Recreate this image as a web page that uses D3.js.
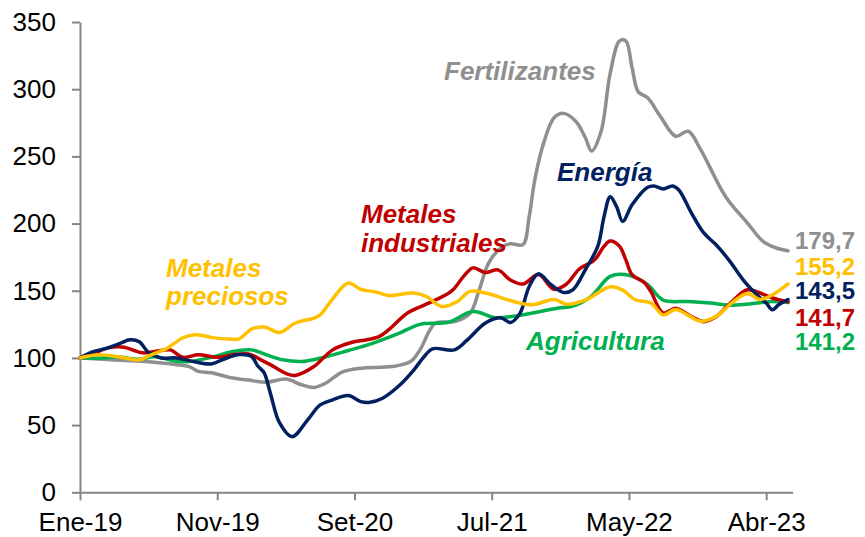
<!DOCTYPE html>
<html>
<head>
<meta charset="utf-8">
<script src="https://cdn.jsdelivr.net/npm/d3@7"></script>
<style>
  body { margin: 0; background: #fff; }
  svg text { font-family: "Liberation Sans", Arial, sans-serif; }
</style>
</head>
<body>
<div id="chart"></div>
<script>
const width = 865, height = 537;

// x = weeks since Ene-19
const tickWeeks = [0, 44, 88, 132, 176, 220];
const tickLabels = ["Ene-19", "Nov-19", "Set-20", "Jul-21", "May-22", "Abr-23"];
const yTicks = [0, 50, 100, 150, 200, 250, 300, 350];

const fertilizantes = [[0,100],[10,98.6],[21,97.3],[31,95],[35,93.5],[38,90],[42,89],[48,85.5],[54,83.5],[60,82],
  [66,84.3],[71,80],[75,78],[79,81.5],[84,89.5],[90,92.4],[100,93.6],[106,97.3],[109,106],[112,120],[114,126],
  [120,127],[125,133],[128,150.7],[131,170.6],[135,182],[138,185],[142,184.3],[144,205],[146,235],[149,262.5],
  [152,278.7],[155,282],[159,276],[162,264],[164,254],[167,268],[170,312],[173,336],[175,336],[177,316],[179,298],
  [182,293.6],[186,280],[191,265],[195,268.7],[199,255],[207,220],[214,200.4],[219,186.7],[223,182],[227,179.7]];

const energia = [[0,100],[4,104.5],[9,107.5],[13,111],[16,113.5],[19,112],[22,104],[26,100],[31,100],[35,98],[42,95.5],
  [46,99],[51,102.5],[55,101],[57,94],[59,89],[61,74],[64,51.6],[68,41.4],[73,53.9],[77,65],[81,68.8],[86,72],
  [90,67.5],[93,67],[97,70],[102,78.7],[107,91],[110,100],[113,106.8],[120,106],[124,113],[130,126],[135,129.8],
  [138,126.4],[141,133],[144,153],[147,162.7],[151,154.5],[155,148.7],[158,150.7],[162,165.6],[166,183],[168,205],
  [170,220],[172,212.8],[174,201.6],[177,214],[182,227],[184,228],[187,225.8],[190,228],[192,225],[196,208],
  [200,193],[204,184],[208,173],[213,157],[217,147],[220,140.8],[222,135.8],[224,139.6],[227,143.5]];

const metalesIndustriales = [[0,100],[5,104],[9,107.5],[14,108],[20,103.8],[26,105.5],[29,106],[33,100.5],[38,102.3],
  [44,100.5],[49,102.3],[54,103],[58,98.6],[61,95],[66,88.5],[69,87],[75,93.6],[81,106],[87,111.5],[92,113.5],
  [96,116],[99,121],[105,133.4],[111,140],[119,149.5],[123,160.7],[126,167],[130,163.5],[134,165.5],[138,158],
  [142,155],[147,162],[152,151],[156,155],[160,166],[165,173],[168,183],[170,187],[173,183],[175,173],[177,162],
  [181,156],[183,149.5],[187,133.4],[191,137],[196,130.8],[200,127],[204,130.8],[209,142],[214,150.7],[218,148.3],
  [222,144.6],[227,141.7]];

const metalesPreciosos = [[0,100],[6,102.3],[13,100.5],[19,98.6],[23,102.5],[28,107.3],[33,115],[37,117.3],[42,115.3],
  [48,114],[51,114.2],[55,121.5],[59,123],[64,119],[69,126],[75,129.7],[77,132],[81,144],[86,155.7],[90,151],
  [95,149],[99,146.5],[107,148.3],[111,145.8],[116,138.3],[121,142],[125,149.5],[130,148.3],[139,142],[145,139.6],
  [152,143.5],[156,140],[162,143],[170,153],[174,150.5],[178,143.3],[183,141],[187,132],[191,136],[199,127.3],
  [204,131],[209,141],[214,148],[218,143.5],[222,147],[227,155.2]];

const agricultura = [[0,100],[6,99.8],[12,100.6],[19,99.1],[24,100.8],[31,97.5],[35,97.3],[43,101],[49,104.8],[55,106],
  [59,103],[65,98.6],[71,97.3],[77,99.8],[86,105.5],[94,111],[102,118],[109,125],[118,126.5],[126,134.6],[133,130],
  [139,131],[145,133.4],[153,137],[158,138.5],[164,146],[170,160.7],[176,161.5],[182,154.5],[187,143],[195,142],
  [202,140.8],[209,139.2],[218,141],[222,142],[227,141.2]];

// drawing order: first at the bottom
const series = [
  { key: "fert", data: fertilizantes, color: "#8f8f8f", label: ["Fertilizantes"], lx: 444, ly: [80], endY: 249 },
  { key: "agri", data: agricultura, color: "#00b050", label: ["Agricultura"], lx: 526, ly: [350], endY: 350 },
  { key: "mind", data: metalesIndustriales, color: "#c00000", label: ["Metales", "industriales"], lx: 361, ly: [223, 252], endY: 326 },
  { key: "ener", data: energia, color: "#002060", label: ["Energía"], lx: 557, ly: [181], endY: 299 },
  { key: "mpre", data: metalesPreciosos, color: "#ffc000", label: ["Metales", "preciosos"], lx: 166, ly: [277, 305], endY: 275 }
];

const svg = d3.select("#chart").append("svg")
  .attr("width", width)
  .attr("height", height);

const x = d3.scaleLinear().domain([0, 228.5]).range([80, 792.7]);
const y = d3.scaleLinear().domain([0, 350]).range([492.3, 22]);

const axisColor = "#868686";

const yAxis = svg.append("g")
  .attr("transform", "translate(80,0)")
  .call(d3.axisLeft(y).tickValues(yTicks).tickSize(8).tickSizeOuter(0).tickPadding(16));
const xAxis = svg.append("g")
  .attr("transform", "translate(0,492.3)")
  .call(d3.axisBottom(x).tickValues(tickWeeks).tickSize(8).tickSizeOuter(0).tickPadding(12)
    .tickFormat((d, i) => tickLabels[i]));

[yAxis, xAxis].forEach(g => {
  g.select(".domain").attr("stroke", axisColor).attr("stroke-width", 2);
  g.selectAll(".tick line").attr("stroke", axisColor).attr("stroke-width", 2);
  g.selectAll(".tick text")
    .attr("fill", "#000")
    .style("font-size", "26px")
    .style("font-family", "'Liberation Sans', Arial, sans-serif");
});
xAxis.selectAll(".tick text").attr("dy", "0.71em");

const line = d3.line()
  .x(d => x(d[0]))
  .y(d => y(d[1]))
  .curve(d3.curveCatmullRom.alpha(0.5));

svg.append("g").selectAll("path")
  .data(series)
  .join("path")
  .attr("d", d => line(d.data))
  .attr("fill", "none")
  .attr("stroke", d => d.color)
  .attr("stroke-width", 3.5)
  .attr("stroke-linejoin", "round")
  .attr("stroke-linecap", "round");

// series names
series.forEach(s => {
  s.label.forEach((txt, i) => {
    svg.append("text")
      .attr("x", s.lx)
      .attr("y", s.ly[i])
      .attr("fill", s.color)
      .style("font-size", "26px")
      .style("font-weight", "bold")
      .style("font-style", "italic")
      .text(txt);
  });
});

// last values
const fmt = d3.format(".1f");
series.forEach(s => {
  const last = s.data[s.data.length - 1][1];
  svg.append("text")
    .attr("x", 795)
    .attr("y", s.endY)
    .attr("fill", s.color)
    .style("font-size", "24px")
    .style("font-weight", "bold")
    .text(fmt(last).replace(".", ","));
});
</script>
</body>
</html>
